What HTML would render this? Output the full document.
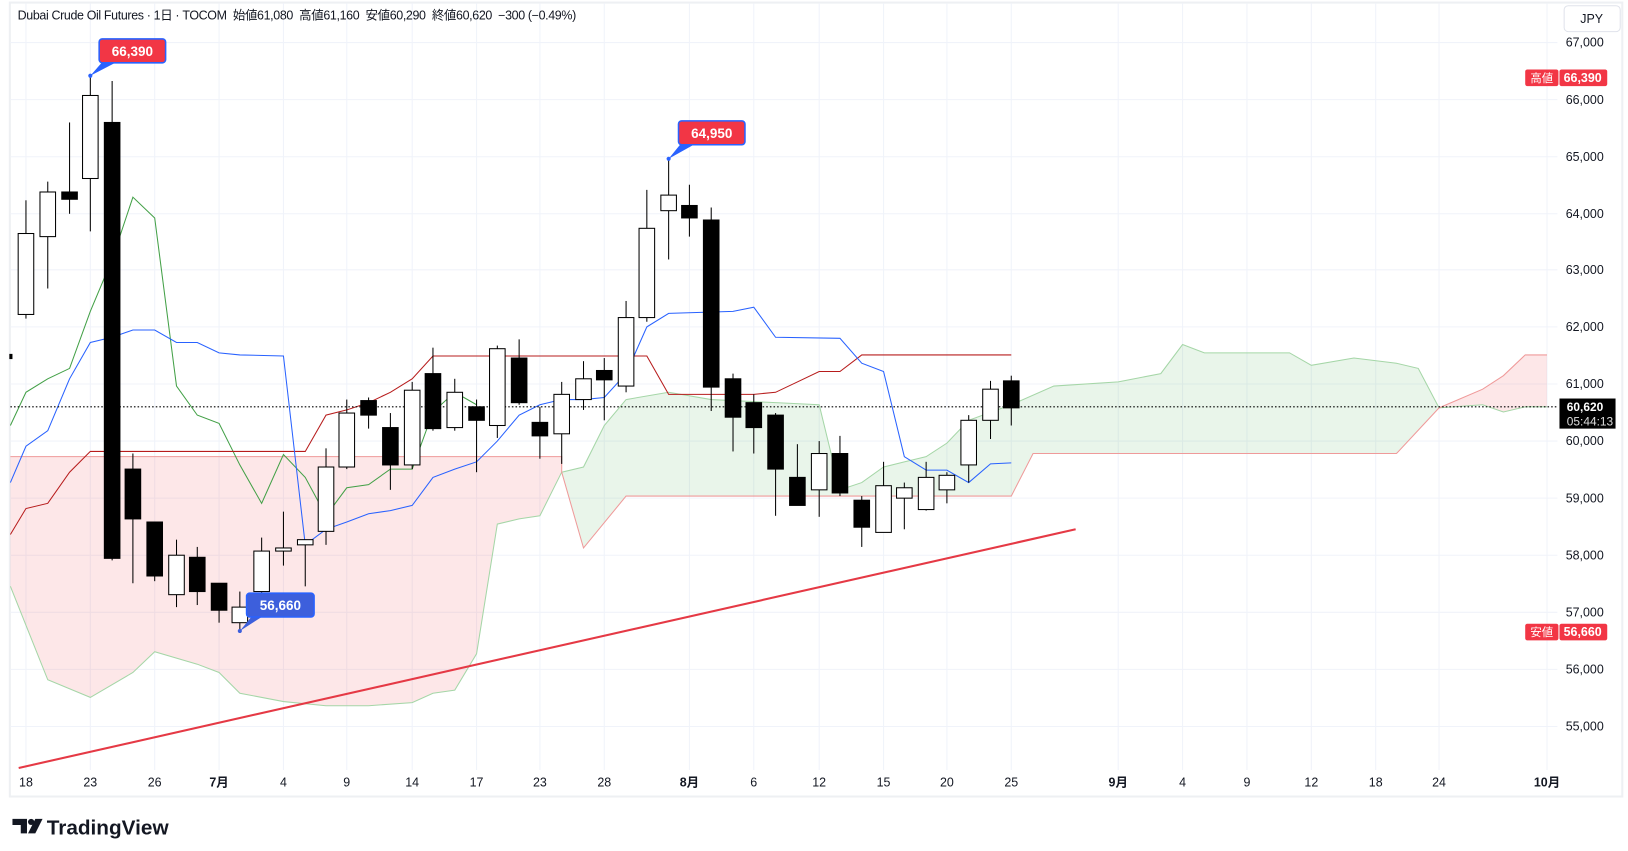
<!DOCTYPE html>
<html><head><meta charset="utf-8"><style>
html,body{margin:0;padding:0;background:#fff;}
svg{display:block;}
text{font-family:"Liberation Sans","Noto Sans CJK JP",sans-serif;}
</style></head><body>
<svg width="1628" height="851" viewBox="0 0 1568 820" preserveAspectRatio="none" xmlns="http://www.w3.org/2000/svg">
<rect x="0" y="0" width="1568" height="820" fill="#fff"/>
<rect x="9.5" y="2.5" width="1553" height="765" fill="none" stroke="#eef0f3" stroke-width="2"/>
<g stroke="#f0f3fa" stroke-width="1">
<line x1="10" x2="1500" y1="41" y2="41"/><line x1="10" x2="1500" y1="96" y2="96"/><line x1="10" x2="1500" y1="151" y2="151"/><line x1="10" x2="1500" y1="206" y2="206"/><line x1="10" x2="1500" y1="260" y2="260"/><line x1="10" x2="1500" y1="315" y2="315"/><line x1="10" x2="1500" y1="370" y2="370"/><line x1="10" x2="1500" y1="425" y2="425"/><line x1="10" x2="1500" y1="480" y2="480"/><line x1="10" x2="1500" y1="535" y2="535"/><line x1="10" x2="1500" y1="590" y2="590"/><line x1="10" x2="1500" y1="645" y2="645"/><line x1="10" x2="1500" y1="700" y2="700"/>
<line y1="3" y2="742" x1="25" x2="25"/><line y1="3" y2="742" x1="87" x2="87"/><line y1="3" y2="742" x1="149" x2="149"/><line y1="3" y2="742" x1="211" x2="211"/><line y1="3" y2="742" x1="273" x2="273"/><line y1="3" y2="742" x1="334" x2="334"/><line y1="3" y2="742" x1="397" x2="397"/><line y1="3" y2="742" x1="459" x2="459"/><line y1="3" y2="742" x1="520" x2="520"/><line y1="3" y2="742" x1="582" x2="582"/><line y1="3" y2="742" x1="664" x2="664"/><line y1="3" y2="742" x1="726" x2="726"/><line y1="3" y2="742" x1="789" x2="789"/><line y1="3" y2="742" x1="851" x2="851"/><line y1="3" y2="742" x1="912" x2="912"/><line y1="3" y2="742" x1="974" x2="974"/><line y1="3" y2="742" x1="1077" x2="1077"/><line y1="3" y2="742" x1="1139" x2="1139"/><line y1="3" y2="742" x1="1201" x2="1201"/><line y1="3" y2="742" x1="1263" x2="1263"/><line y1="3" y2="742" x1="1325" x2="1325"/><line y1="3" y2="742" x1="1386" x2="1386"/><line y1="3" y2="742" x1="1490" x2="1490"/>
</g>
<polygon fill="rgba(242,54,69,0.12)" stroke="none" points="10,440 541,440 541,455 520,497 500,500 479,505 459,630 438,665 417,668 397,677 355,680 314,680 273,676 231,668 211,648 190,640 149,628 128,648 87,672 46,655 10,565"/>
<polygon fill="rgba(242,54,69,0.12)" points="1386,393 1428,375 1448,362 1469,342 1490,342 1490,392 1469,392 1448,397 1428,390"/>
<polygon fill="rgba(76,175,80,0.12)" points="541,455 562,450 582,410 603,385 644,378 685,385 747,388 789,390 809,472 830,465 851,450 871,445 892,440 912,427 933,405 974,390 1015,372 1077,368 1118,360 1139,332 1160,340 1242,340 1263,352 1304,345 1345,350 1366,355 1386,393 1345,437 1015,437 995,437 974,478 603,478 562,528"/>
<polyline fill="none" stroke="#a5d6a7" stroke-width="1" points="10,565 46,655 87,672 128,648 149,628 190,640 211,648 231,668 273,676 314,680 355,680 397,677 417,668 438,665 459,630 479,505 500,500 520,497 541,455 562,450 582,410 603,385 644,378 685,385 747,388 789,390 809,472 830,465 851,450 871,445 892,440 912,427 933,405 974,390 1015,372 1077,368 1118,360 1139,332 1160,340 1242,340 1263,352 1304,345 1345,350 1366,355 1386,393 1428,390 1448,397 1469,392 1490,392"/>
<polyline fill="none" stroke="#ef9a9a" stroke-width="1" points="10,440 541,440 541,455 562,528 603,478 974,478 995,437 1345,437 1386,393 1428,375 1448,362 1469,342 1490,342"/>
<line x1="18" y1="740" x2="1036" y2="510" stroke="#e53945" stroke-width="2"/>
<polyline fill="none" stroke="#43a047" stroke-width="1" points="10,410 25,378 46,365 67,355 87,300 108,250 128,190 149,210 170,372 190,400 211,408 231,448 252,485 273,438 294,460 314,497 334,470 355,467 376,452 397,452 417,397 438,378 459,390"/>
<polyline fill="none" stroke="#b71c1c" stroke-width="1" points="10,515 25,490 46,485 67,455 87,435 294,435 314,400 334,395 355,388 376,378 397,365 417,343 623,343 644,380 726,380 747,378 768,368 789,358 809,358 830,342 974,342"/>
<polyline fill="none" stroke="#2962ff" stroke-width="1" points="10,465 25,430 46,415 67,365 87,330 108,325 128,318 149,318 170,330 190,330 211,340 231,342 273,343 294,525 314,510 334,503 355,495 376,492 397,487 417,460 438,452 459,445 479,425 500,400 520,390 541,385 562,385 582,383 603,360 623,315 644,302 706,300 726,296 747,325 809,326 830,350 851,358 871,440 892,453 912,453 933,465 954,447 974,446"/>
<line x1="10" x2="1500" y1="392" y2="392" stroke="#000" stroke-width="1" stroke-dasharray="1.5,2"/>
<rect x="9" y="341" width="3" height="5" fill="#000"/>
<g stroke="#000" stroke-width="1">
<line x1="25" x2="25" y1="193" y2="307"/><rect x="17.5" y="225" width="15" height="78" fill="#fff"/>
<line x1="46" x2="46" y1="175" y2="278"/><rect x="38.5" y="185" width="15" height="43" fill="#fff"/>
<line x1="67" x2="67" y1="118" y2="206"/><rect x="59.5" y="185" width="15" height="7" fill="#000"/>
<line x1="87" x2="87" y1="73" y2="223"/><rect x="79.5" y="92" width="15" height="80" fill="#fff"/>
<line x1="108" x2="108" y1="78" y2="540"/><rect x="100.5" y="118" width="15" height="420" fill="#000"/>
<line x1="128" x2="128" y1="437" y2="562"/><rect x="120.5" y="452" width="15" height="48" fill="#000"/>
<line x1="149" x2="149" y1="503" y2="560"/><rect x="141.5" y="503" width="15" height="52" fill="#000"/>
<line x1="170" x2="170" y1="520" y2="585"/><rect x="162.5" y="535" width="15" height="38" fill="#fff"/>
<line x1="190" x2="190" y1="527" y2="583"/><rect x="182.5" y="537" width="15" height="33" fill="#000"/>
<line x1="211" x2="211" y1="562" y2="600"/><rect x="203.5" y="562" width="15" height="26" fill="#000"/>
<line x1="231" x2="231" y1="570" y2="608"/><rect x="223.5" y="585" width="15" height="15" fill="#fff"/>
<line x1="252" x2="252" y1="518" y2="580"/><rect x="244.5" y="531" width="15" height="39" fill="#fff"/>
<line x1="273" x2="273" y1="493" y2="545"/><rect x="265.5" y="528" width="15" height="3" fill="#fff"/>
<line x1="294" x2="294" y1="520" y2="565"/><rect x="286.5" y="520" width="15" height="5" fill="#fff"/>
<line x1="314" x2="314" y1="432" y2="525"/><rect x="306.5" y="450" width="15" height="62" fill="#fff"/>
<line x1="334" x2="334" y1="385" y2="452"/><rect x="326.5" y="398" width="15" height="52" fill="#fff"/>
<line x1="355" x2="355" y1="383" y2="413"/><rect x="347.5" y="386" width="15" height="14" fill="#000"/>
<line x1="376" x2="376" y1="398" y2="472"/><rect x="368.5" y="412" width="15" height="36" fill="#000"/>
<line x1="397" x2="397" y1="368" y2="452"/><rect x="389.5" y="376" width="15" height="72" fill="#fff"/>
<line x1="417" x2="417" y1="335" y2="415"/><rect x="409.5" y="360" width="15" height="53" fill="#000"/>
<line x1="438" x2="438" y1="365" y2="415"/><rect x="430.5" y="378" width="15" height="34" fill="#fff"/>
<line x1="459" x2="459" y1="385" y2="455"/><rect x="451.5" y="392" width="15" height="13" fill="#000"/>
<line x1="479" x2="479" y1="333" y2="422"/><rect x="471.5" y="336" width="15" height="74" fill="#fff"/>
<line x1="500" x2="500" y1="327" y2="390"/><rect x="492.5" y="345" width="15" height="43" fill="#000"/>
<line x1="520" x2="520" y1="392" y2="442"/><rect x="512.5" y="407" width="15" height="13" fill="#000"/>
<line x1="541" x2="541" y1="368" y2="447"/><rect x="533.5" y="380" width="15" height="38" fill="#fff"/>
<line x1="562" x2="562" y1="348" y2="395"/><rect x="554.5" y="365" width="15" height="20" fill="#fff"/>
<line x1="582" x2="582" y1="345" y2="405"/><rect x="574.5" y="357" width="15" height="9" fill="#000"/>
<line x1="603" x2="603" y1="290" y2="378"/><rect x="595.5" y="306" width="15" height="66" fill="#fff"/>
<line x1="623" x2="623" y1="183" y2="310"/><rect x="615.5" y="220" width="15" height="86" fill="#fff"/>
<line x1="644" x2="644" y1="152" y2="250"/><rect x="636.5" y="188" width="15" height="15" fill="#fff"/>
<line x1="664" x2="664" y1="178" y2="228"/><rect x="656.5" y="198" width="15" height="12" fill="#000"/>
<line x1="685" x2="685" y1="200" y2="396"/><rect x="677.5" y="212" width="15" height="161" fill="#000"/>
<line x1="706" x2="706" y1="360" y2="435"/><rect x="698.5" y="365" width="15" height="37" fill="#000"/>
<line x1="726" x2="726" y1="380" y2="437"/><rect x="718.5" y="388" width="15" height="24" fill="#000"/>
<line x1="747" x2="747" y1="398" y2="497"/><rect x="739.5" y="400" width="15" height="52" fill="#000"/>
<line x1="768" x2="768" y1="428" y2="487"/><rect x="760.5" y="460" width="15" height="27" fill="#000"/>
<line x1="789" x2="789" y1="425" y2="498"/><rect x="781.5" y="437" width="15" height="35" fill="#fff"/>
<line x1="809" x2="809" y1="420" y2="478"/><rect x="801.5" y="437" width="15" height="38" fill="#000"/>
<line x1="830" x2="830" y1="478" y2="527"/><rect x="822.5" y="482" width="15" height="26" fill="#000"/>
<line x1="851" x2="851" y1="445" y2="513"/><rect x="843.5" y="468" width="15" height="45" fill="#fff"/>
<line x1="871" x2="871" y1="465" y2="510"/><rect x="863.5" y="470" width="15" height="10" fill="#fff"/>
<line x1="892" x2="892" y1="445" y2="492"/><rect x="884.5" y="460" width="15" height="31" fill="#fff"/>
<line x1="912" x2="912" y1="455" y2="485"/><rect x="904.5" y="458" width="15" height="14" fill="#fff"/>
<line x1="933" x2="933" y1="400" y2="465"/><rect x="925.5" y="405" width="15" height="43" fill="#fff"/>
<line x1="954" x2="954" y1="367" y2="423"/><rect x="946.5" y="375" width="15" height="30" fill="#fff"/>
<line x1="974" x2="974" y1="362" y2="410"/><rect x="966.5" y="367" width="15" height="26" fill="#000"/>
</g>
<g font-size="13" font-weight="bold" text-anchor="middle">
<polygon points="87,73 100,58 112,60" fill="#2962ff"/><circle cx="87" cy="73" r="2" fill="#2962ff"/>
<rect x="95.5" y="37.5" width="64" height="23" rx="3" fill="#f23645" stroke="#2962ff" stroke-width="1.5"/>
<text x="127.5" y="54" fill="#fff">66,390</text>
<polygon points="644,153 657,137 669,139" fill="#2962ff"/><circle cx="644" cy="153" r="2" fill="#2962ff"/>
<rect x="653.5" y="116.5" width="64" height="23" rx="3" fill="#f23645" stroke="#2962ff" stroke-width="1.5"/>
<text x="685.5" y="133" fill="#fff">64,950</text>
<polygon points="231,608 244,592 256,592" fill="#3d5fdc"/><circle cx="231" cy="608" r="2" fill="#3d5fdc"/>
<rect x="237.5" y="571.5" width="65" height="23" rx="3" fill="#3d5fdc" stroke="#2962ff" stroke-width="1.5"/>
<text x="270" y="588" fill="#fff">56,660</text>
</g>
<text x="17" y="19" font-size="12" fill="#131722" style="white-space:pre" textLength="538" lengthAdjust="spacing">Dubai Crude Oil Futures · 1日 · TOCOM  始値61,080  高値61,160  安値60,290  終値60,620  −300 (−0.49%)</text>
<rect x="1506.5" y="5.5" width="54" height="25" rx="4" fill="#fff" stroke="#e0e3eb"/>
<text x="1522" y="22" font-size="12" fill="#131722">JPY</text>
<g font-size="12" fill="#131722">
<text x="1508" y="45">67,000</text><text x="1508" y="100">66,000</text><text x="1508" y="155">65,000</text><text x="1508" y="210">64,000</text><text x="1508" y="264">63,000</text><text x="1508" y="319">62,000</text><text x="1508" y="374">61,000</text><text x="1508" y="429">60,000</text><text x="1508" y="484">59,000</text><text x="1508" y="539">58,000</text><text x="1508" y="594">57,000</text><text x="1508" y="649">56,000</text><text x="1508" y="704">55,000</text>
</g>
<rect x="1469" y="67" width="32" height="16" rx="2" fill="#f23645"/><text x="1485" y="79" font-size="11" fill="#fff" text-anchor="middle">高値</text>
<rect x="1502" y="67" width="46" height="16" rx="2" fill="#f23645"/><text x="1506" y="79" font-size="12" fill="#fff" font-weight="bold">66,390</text>
<rect x="1469" y="601" width="32" height="16" rx="2" fill="#f23645"/><text x="1485" y="613" font-size="11" fill="#fff" text-anchor="middle">安値</text>
<rect x="1502" y="601" width="46" height="16" rx="2" fill="#f23645"/><text x="1506" y="613" font-size="12" fill="#fff" font-weight="bold">56,660</text>
<rect x="1502" y="384" width="54" height="29" fill="#000"/>
<text x="1509" y="396" font-size="11.5" fill="#fff" font-weight="bold">60,620</text>
<text x="1509" y="410" font-size="11.5" fill="#ddd">05:44:13</text>
<g font-size="12" fill="#131722" text-anchor="middle">
<text x="25" y="758">18</text><text x="87" y="758">23</text><text x="149" y="758">26</text><text x="211" y="758" font-weight="bold">7月</text><text x="273" y="758">4</text><text x="334" y="758">9</text><text x="397" y="758">14</text><text x="459" y="758">17</text><text x="520" y="758">23</text><text x="582" y="758">28</text><text x="664" y="758" font-weight="bold">8月</text><text x="726" y="758">6</text><text x="789" y="758">12</text><text x="851" y="758">15</text><text x="912" y="758">20</text><text x="974" y="758">25</text><text x="1077" y="758" font-weight="bold">9月</text><text x="1139" y="758">4</text><text x="1201" y="758">9</text><text x="1263" y="758">12</text><text x="1325" y="758">18</text><text x="1386" y="758">24</text><text x="1490" y="758" font-weight="bold">10月</text>
</g>
<g fill="#131722">
<path d="M12,789 h14 v14 h-6 v-8 h-8 z"/><circle cx="30" cy="792" r="3"/><path d="M34,789 h7 l-7,14 h-7 z"/>
</g>
<text x="45" y="804" font-size="20" font-weight="bold" fill="#131722">TradingView</text>
</svg>
</body></html>
